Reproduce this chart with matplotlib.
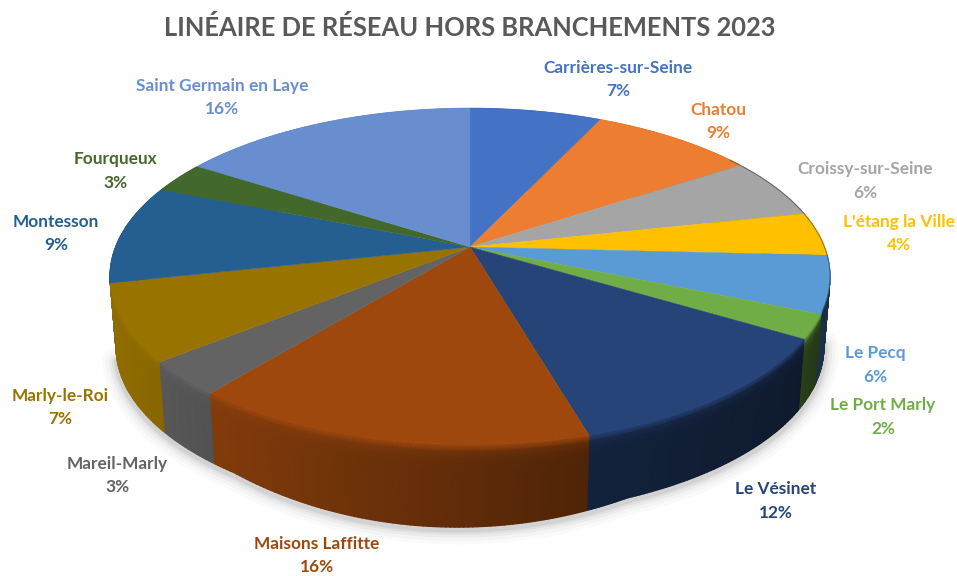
"""3D-style pie: linéaire de réseau hors branchements 2023."""

import matplotlib

matplotlib.use("Agg")

import matplotlib.pyplot as plt
import numpy as np
from matplotlib.colors import to_rgb

communes = [
    "Carrières-sur-Seine", "Chatou", "Croissy-sur-Seine", "L'étang la Ville",
    "Le Pecq", "Le Port Marly", "Le Vésinet", "Maisons Laffitte",
    "Mareil-Marly", "Marly-le-Roi", "Montesson", "Fourqueux",
    "Saint Germain en Laye",
]
shares = [7.0, 8.75, 5.85, 4.2, 5.5, 2.3, 11.9, 15.4, 3.3, 7.4, 9.5, 3.0, 15.9]
share_labels = ["7%", "9%", "6%", "4%", "6%", "2%", "12%", "16%", "3%", "7%", "9%", "3%", "16%"]
colors = [
    "#4472C4", "#ED7D31", "#A5A5A5", "#FFC000", "#5B9BD5", "#70AD47", "#264478",
    "#9E480E", "#636363", "#997300", "#255E91", "#43682B", "#698ED0",
]
label_xy = [
    (618, 68), (718, 110), (865, 169), (899, 222), (875, 353), (883, 405), (776, 489),
    (317, 544), (117, 464), (60, 396), (56, 222), (115, 159), (222, 86),
]
title = "LINÉAIRE DE RÉSEAU HORS BRANCHEMENTS 2023"

# perspective of the pie disc, in pixels
CX, CY = 470, 247
A, B, K = 354.5, 163, 0.175
FONT = "Lato"


def rim(theta):
    """Top rim point for an angle measured clockwise from 12 o'clock."""
    u, v = np.sin(theta), np.cos(theta)
    w = 1 + K * v
    return CX + A * u / w, CY - B * v / w


def base(theta):
    """Bottom edge of the side wall under the rim point."""
    x, y = rim(theta)
    bump = np.clip(1 - ((x - 430) / 200) ** 2, 0, 1)
    depth = 71 + 12 * bump
    return CX + 0.983 * (x - CX), y + depth


def wall_shade(x):
    return np.interp(x, [110, 210, 590, 800, 830], [0.95, 0.82, 0.5, 0.38, 0.3])


fig = plt.figure(figsize=(9.57, 5.76), dpi=100, facecolor="white")
ax = fig.add_axes([0, 0, 1, 1])
ax.set_xlim(0, 957)
ax.set_ylim(576, 0)
ax.axis("off")

edges = 2 * np.pi * np.concatenate([[0], np.cumsum(shares)]) / 100

# soft shadow under the pie
front = np.linspace(np.pi * 0.55, np.pi * 1.42, 200)
bx, by = base(front)
for width, alpha in zip([22, 17, 12, 8, 5], [0.018, 0.025, 0.035, 0.045, 0.06]):
    ax.plot(bx, by + 2, color="black", lw=width, alpha=alpha, zorder=1, solid_capstyle="round")

# side walls, back to front
order = np.argsort([np.cos((edges[i] + edges[i + 1]) / 2) for i in range(len(shares))])[::-1]
rows = np.linspace(0, 1, 13)
for i in order:
    rgb = np.array(to_rgb(colors[i]))
    n = max(3, int(shares[i] * 6))
    th = np.linspace(edges[i], edges[i + 1], n)
    tx, ty = rim(th)
    ox, oy = base(th)
    X = tx[None, :] + (ox - tx)[None, :] * rows[:, None]
    Y = ty[None, :] + (oy - ty)[None, :] * rows[:, None]
    shade = wall_shade(tx)[None, :]
    glow = np.exp(-rows[:, None] / 0.06)
    C = rgb[None, None, :] * (shade + (1 - shade) * glow)[:, :, None]
    ax.pcolormesh(X, Y, np.clip(C, 0, 1), shading="gouraud", zorder=2)

# top face
for i in range(len(shares)):
    th = np.linspace(edges[i], edges[i + 1], 80)
    x, y = rim(th)
    ax.fill(np.r_[CX, x], np.r_[CY, y], color=colors[i], lw=0.3, zorder=3)

# thin dark edge on the right of the rim
right = np.linspace(np.pi * 0.3, np.pi * 0.62, 60)
ex, ey = rim(right)
ax.plot(ex, ey, color="#1f2a38", lw=0.8, alpha=0.45, zorder=4)

for name, pct, col, (lx, ly) in zip(communes, share_labels, colors, label_xy):
    ax.text(lx, ly, name, color=col, ha="center", va="center", fontsize=12.4, fontweight="bold", family=FONT)
    ax.text(lx, ly + 23.5, pct, color=col, ha="center", va="center", fontsize=12.4, fontweight="bold", family=FONT)

ax.text(470, 27, title, color="#595959", ha="center", va="center", fontsize=18.4, fontweight="bold", family=FONT)

fig.savefig("out.png", dpi=100, facecolor="white")
plt.close(fig)
